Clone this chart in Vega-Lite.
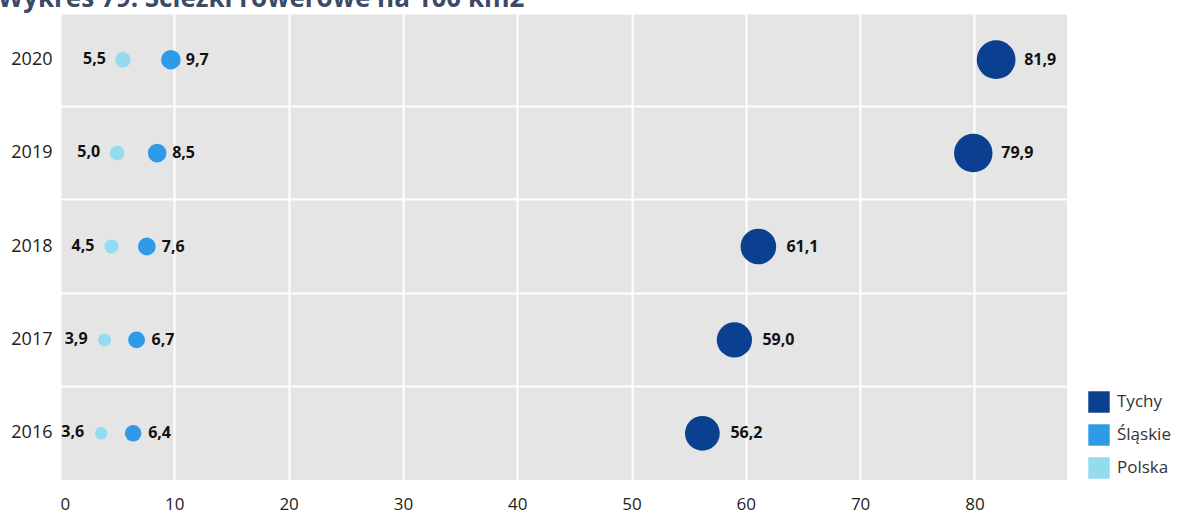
{
  "$schema": "https://vega.github.io/schema/vega-lite/v6.json",
  "width": 1007,
  "height": 467,
  "autosize": "none",
  "padding": {"left": 60, "top": 13, "right": 110, "bottom": 34},
  "background": "white",
  "title": {
    "text": "Wykres 79. Ścieżki rowerowe na 100 km2",
    "anchor": "start",
    "frame": "group",
    "dx": -62,
    "dy": 26,
    "offset": 6,
    "baseline": "alphabetic",
    "font": "Open Sans",
    "fontSize": 26,
    "fontWeight": "bold",
    "color": "#3b4a66"
  },
  "config": {
    "locale": {"number": {"decimal": ",", "thousands": " ", "grouping": [3], "currency": ["", " zł"]}},
    "view": {"fill": "#e5e5e5", "stroke": null},
    "font": "Open Sans"
  },
  "data": {
    "values": [
      {"year": "2016", "region": "Tychy", "value": 56.2},
      {"year": "2017", "region": "Tychy", "value": 59.0},
      {"year": "2018", "region": "Tychy", "value": 61.1},
      {"year": "2019", "region": "Tychy", "value": 79.9},
      {"year": "2020", "region": "Tychy", "value": 81.9},
      {"year": "2016", "region": "Śląskie", "value": 6.4},
      {"year": "2017", "region": "Śląskie", "value": 6.7},
      {"year": "2018", "region": "Śląskie", "value": 7.6},
      {"year": "2019", "region": "Śląskie", "value": 8.5},
      {"year": "2020", "region": "Śląskie", "value": 9.7},
      {"year": "2016", "region": "Polska", "value": 3.6},
      {"year": "2017", "region": "Polska", "value": 3.9},
      {"year": "2018", "region": "Polska", "value": 4.5},
      {"year": "2019", "region": "Polska", "value": 5.0},
      {"year": "2020", "region": "Polska", "value": 5.5}
    ]
  },
  "encoding": {
    "x": {
      "field": "value",
      "type": "quantitative",
      "scale": {"domain": [0, 88.1], "nice": false, "zero": false},
      "axis": {
        "title": null,
        "values": [0, 10, 20, 30, 40, 50, 60, 70, 80],
        "grid": true,
        "gridColor": "white",
        "gridWidth": 2,
        "domain": false,
        "ticks": false,
        "labelPadding": 16,
        "labelFontSize": 17,
        "labelColor": "#222222",
        "labelFont": "Open Sans"
      }
    },
    "y": {
      "field": "year",
      "type": "ordinal",
      "sort": "descending",
      "scale": {"type": "band", "paddingInner": 0, "paddingOuter": 0},
      "axis": {
        "title": null,
        "grid": true,
        "gridColor": "white",
        "gridWidth": 2,
        "bandPosition": 0,
        "domain": false,
        "ticks": false,
        "labelPadding": 8,
        "labelFontSize": 18,
        "labelColor": "#222222",
        "labelFont": "Open Sans",
        "labelBaseline": "middle"
      }
    }
  },
  "layer": [
    {
      "mark": {"type": "circle", "opacity": 1},
      "encoding": {
        "color": {
          "field": "region",
          "type": "nominal",
          "scale": {"domain": ["Tychy", "Śląskie", "Polska"], "range": ["#0b3f8f", "#2f9be8", "#93dcef"]},
          "legend": {
            "title": null,
            "orient": "none",
            "legendX": 1028,
            "legendY": 378,
            "symbolType": "square",
            "symbolSize": 460,
            "symbolStrokeWidth": 0,
            "symbolOpacity": 1,
            "rowPadding": 11,
            "labelFontSize": 17,
            "labelColor": "#333333",
            "labelFont": "Open Sans",
            "labelOffset": 7
          }
        },
        "size": {
          "field": "value",
          "type": "quantitative",
          "scale": {"type": "sqrt", "domain": [3.6, 81.9], "range": [154, 1500]},
          "legend": null
        }
      }
    },
    {
      "transform": [{"filter": "datum.region === 'Tychy'"}],
      "mark": {"type": "text", "align": "left", "baseline": "middle", "dx": 28, "fontSize": 16, "fontWeight": "bold", "color": "#111111", "font": "Open Sans"},
      "encoding": {"text": {"field": "value", "type": "quantitative", "format": ".1f"}}
    },
    {
      "transform": [{"filter": "datum.region === 'Śląskie'"}],
      "mark": {"type": "text", "align": "left", "baseline": "middle", "dx": 15, "fontSize": 16, "fontWeight": "bold", "color": "#111111", "font": "Open Sans"},
      "encoding": {"text": {"field": "value", "type": "quantitative", "format": ".1f"}}
    },
    {
      "transform": [{"filter": "datum.region === 'Polska'"}],
      "mark": {"type": "text", "align": "right", "baseline": "middle", "dx": -17, "dy": -1, "fontSize": 16, "fontWeight": "bold", "color": "#111111", "font": "Open Sans"},
      "encoding": {"text": {"field": "value", "type": "quantitative", "format": ".1f"}}
    }
  ]
}
